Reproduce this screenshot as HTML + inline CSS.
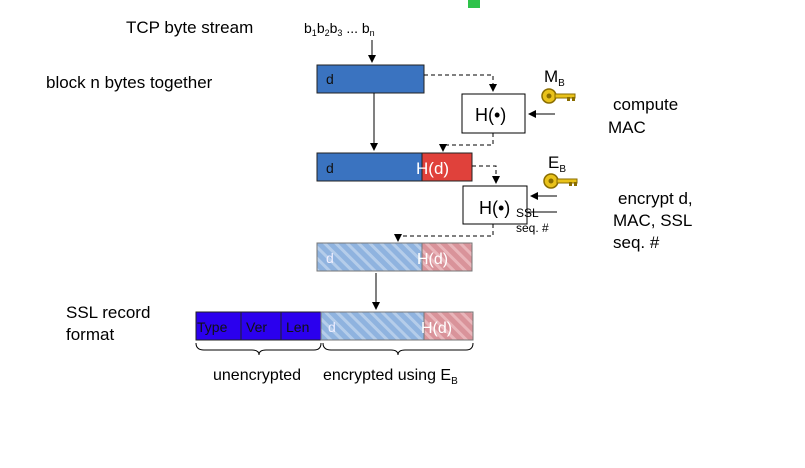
<!DOCTYPE html>
<html><head><meta charset="utf-8"><style>
body{margin:0;background:#fff;width:805px;height:468px;overflow:hidden}
svg{display:block}
text{font-family:"Liberation Sans",sans-serif}
</style></head><body>
<svg width="805" height="468" viewBox="0 0 805 468">
<defs>
<pattern id="hb" width="8" height="8" patternUnits="userSpaceOnUse" patternTransform="rotate(-45)">
<rect width="8" height="8" fill="#8fb3df"/><rect width="3" height="8" fill="#b5cdea"/></pattern>
<pattern id="hr" width="8" height="8" patternUnits="userSpaceOnUse" patternTransform="rotate(-45)">
<rect width="8" height="8" fill="#d9939a"/><rect width="3" height="8" fill="#e9b5ba"/></pattern>
<marker id="a" markerWidth="8" markerHeight="8" refX="7" refY="4" orient="auto"><path d="M0,0 L8,4 L0,8z" fill="#000"/></marker>
<g id="key"><circle cx="8" cy="8" r="7" fill="#e9c21a" stroke="#8a6d00" stroke-width="1.5"/><circle cx="8" cy="8" r="2.5" fill="#8a6d00"/><rect x="14" y="6" width="20" height="4" fill="#e9c21a" stroke="#8a6d00"/><rect x="26" y="9" width="3" height="4" fill="#8a6d00"/><rect x="31" y="9" width="3" height="4" fill="#8a6d00"/></g>
</defs>
<rect x="468" y="0" width="12" height="8" fill="#2ec24a"/>
<text x="126" y="33" font-size="17">TCP byte stream</text>
<text x="304" y="33" font-size="14">b<tspan font-size="9" dy="3">1</tspan><tspan dy="-3">b</tspan><tspan font-size="9" dy="3">2</tspan><tspan dy="-3">b</tspan><tspan font-size="9" dy="3">3</tspan><tspan dy="-3"> ... b</tspan><tspan font-size="9" dy="3">n</tspan></text>
<text x="46" y="88" font-size="17">block n bytes together</text>
<line x1="372" y1="40" x2="372" y2="62" stroke="#000" marker-end="url(#a)"/>
<rect x="317" y="65" width="107" height="28" fill="#3a73c0" stroke="#222"/>
<text x="326" y="84" font-size="14" fill="#111">d</text>
<path d="M424,75 H493 V91" fill="none" stroke="#000" stroke-dasharray="4,3" marker-end="url(#a)"/>
<rect x="462" y="94" width="63" height="39" fill="#fff" stroke="#000"/>
<text x="475" y="121" font-size="18">H(•)</text>
<line x1="555" y1="114" x2="529" y2="114" stroke="#000" marker-end="url(#a)"/>
<text x="544" y="82" font-size="17">M<tspan font-size="10" dy="4">B</tspan></text>
<use href="#key" x="541" y="88"/>
<text x="613" y="110" font-size="17">compute</text>
<text x="608" y="133" font-size="17">MAC</text>
<line x1="374" y1="93" x2="374" y2="150" stroke="#000" marker-end="url(#a)"/>
<path d="M493,133 V145 H443 V151" fill="none" stroke="#000" stroke-dasharray="4,3" marker-end="url(#a)"/>
<rect x="317" y="153" width="105" height="28" fill="#3a73c0" stroke="#222"/>
<rect x="422" y="153" width="50" height="28" fill="#e0413b" stroke="#222"/>
<text x="326" y="173" font-size="14" fill="#111">d</text>
<text x="416" y="174" font-size="17" fill="#fff">H(d)</text>
<path d="M472,166 H496 V183" fill="none" stroke="#000" stroke-dasharray="4,3" marker-end="url(#a)"/>
<rect x="463" y="186" width="64" height="38" fill="#fff" stroke="#000"/>
<text x="479" y="214" font-size="18">H(•)</text>
<text x="516" y="217" font-size="12">SSL</text>
<text x="516" y="232" font-size="12">seq. #</text>
<line x1="557" y1="196" x2="531" y2="196" stroke="#000" marker-end="url(#a)"/>
<line x1="557" y1="212" x2="528" y2="212" stroke="#000"/>
<text x="548" y="168" font-size="17">E<tspan font-size="10" dy="4">B</tspan></text>
<use href="#key" x="543" y="173"/>
<text x="618" y="204" font-size="17">encrypt d,</text>
<text x="613" y="226" font-size="17">MAC, SSL</text>
<text x="613" y="248" font-size="17">seq. #</text>
<path d="M493,224 V236 H398 V241" fill="none" stroke="#000" stroke-dasharray="4,3" marker-end="url(#a)"/>
<rect x="317" y="243" width="105" height="28" fill="url(#hb)" stroke="#777"/>
<rect x="422" y="243" width="50" height="28" fill="url(#hr)" stroke="#777"/>
<text x="326" y="263" font-size="14" fill="#eef">d</text>
<text x="417" y="264" font-size="16" fill="#fff">H(d)</text>
<line x1="376" y1="273" x2="376" y2="309" stroke="#000" marker-end="url(#a)"/>
<text x="66" y="318" font-size="17">SSL record</text>
<text x="66" y="340" font-size="17">format</text>
<rect x="196" y="312" width="125" height="28" fill="#2b00ee" stroke="#222"/>
<line x1="241" y1="312" x2="241" y2="340" stroke="#222"/>
<line x1="281" y1="312" x2="281" y2="340" stroke="#222"/>
<text x="197" y="332" font-size="14" fill="#111">Type</text>
<text x="246" y="332" font-size="14" fill="#111">Ver</text>
<text x="286" y="332" font-size="14" fill="#111">Len</text>
<rect x="321" y="312" width="103" height="28" fill="url(#hb)" stroke="#777"/>
<rect x="424" y="312" width="49" height="28" fill="url(#hr)" stroke="#777"/>
<text x="328" y="332" font-size="14" fill="#eef">d</text>
<text x="421" y="333" font-size="16" fill="#fff">H(d)</text>
<path d="M196,343 Q196,350 204,350 H252 Q259,350 259,355 Q259,350 266,350 H314 Q321,350 321,343" fill="none" stroke="#000"/>
<path d="M323,343 Q323,350 331,350 H391 Q398,350 398,355 Q398,350 405,350 H466 Q473,350 473,343" fill="none" stroke="#000"/>
<text x="213" y="380" font-size="16">unencrypted</text>
<text x="323" y="380" font-size="16">encrypted using E<tspan font-size="10" dy="4">B</tspan></text>
</svg>
</body></html>
